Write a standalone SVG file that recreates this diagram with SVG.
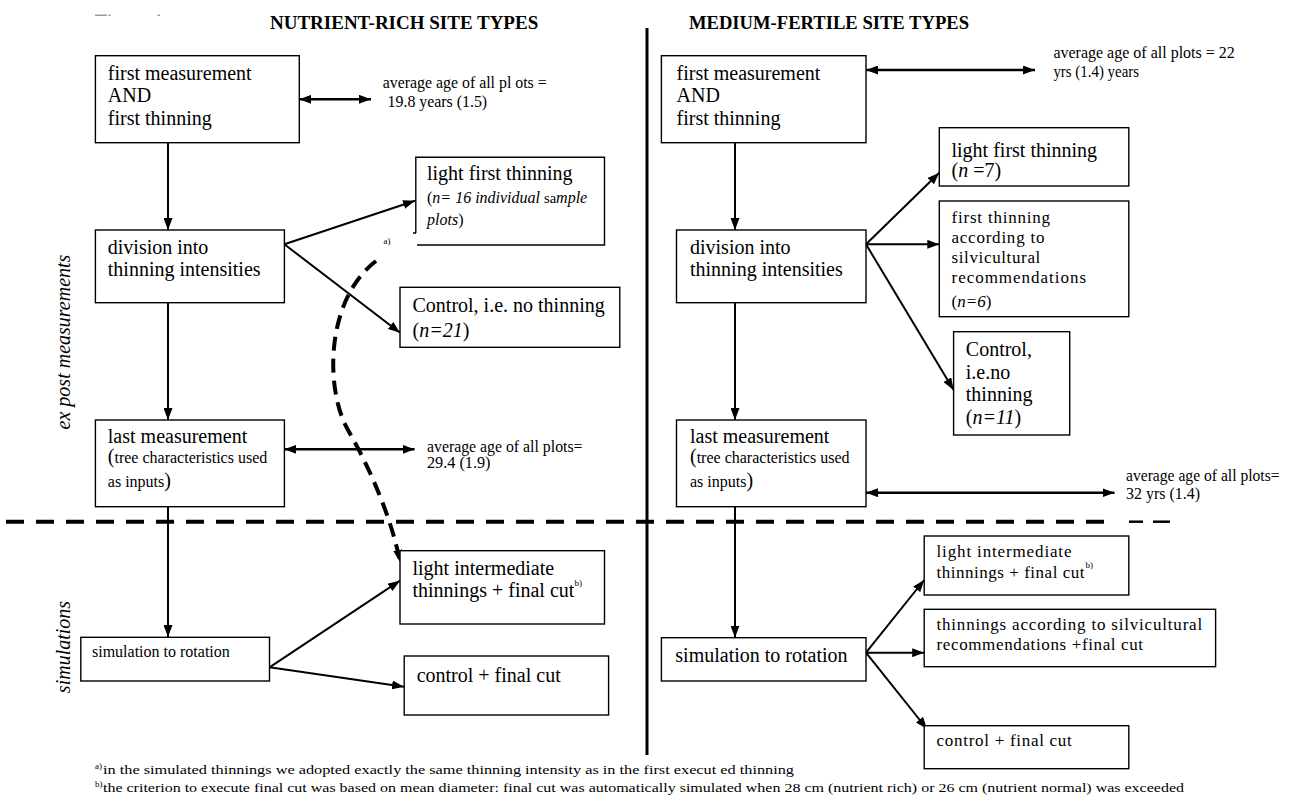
<svg xmlns="http://www.w3.org/2000/svg" width="1289" height="802" viewBox="0 0 1289 802">
<style>
text{font-family:"Liberation Serif","Times New Roman",serif;fill:#000}
.h{font-size:19px;font-weight:bold}
.b{font-size:20px}
.m{font-size:17px}
.s{font-size:16px}
.a{font-size:16px}
.i{font-style:italic}
.f{font-size:13px}
.sup{font-size:9px}
.box{fill:#fff;stroke:#000;stroke-width:1.4}
.ln{stroke:#000;stroke-width:2;fill:none}
.dl{stroke:#000;stroke-width:2.6;fill:none}
</style>
<defs>
<marker id="ah" viewBox="0 0 12 9" refX="12" refY="4.5" markerWidth="12" markerHeight="9" markerUnits="userSpaceOnUse" orient="auto-start-reverse"><path d="M0,0 L12,4.5 L0,9 z" fill="#000"/></marker>
</defs>
<rect width="1289" height="802" fill="#fff"/>

<g id="clipped-caption" fill="#9a9a9a">
<rect x="95" y="14.5" width="12" height="1.5"/>
<rect x="108.5" y="14.5" width="2" height="1.5"/>
<rect x="157.5" y="14.5" width="2.5" height="1.5"/>
</g>

<g id="headers">
<text class="h" x="270" y="29">NUTRIENT-RICH SITE TYPES</text>
<text class="h" x="689" y="29" textLength="280" lengthAdjust="spacingAndGlyphs">MEDIUM-FERTILE SITE TYPES</text>
<text class="b i" transform="translate(69.5,342) rotate(-90)" text-anchor="middle">ex post measurements</text>
<text class="b i" transform="translate(69.5,647) rotate(-90)" text-anchor="middle">simulations</text>
</g>

<g id="dividers">
<line x1="647" y1="28" x2="647" y2="755" stroke="#000" stroke-width="3"/>
<line x1="6" y1="521.7" x2="1113" y2="521.7" stroke="#000" stroke-width="4" stroke-dasharray="18 12"/>
<line x1="1129" y1="521.7" x2="1143" y2="521.7" stroke="#000" stroke-width="2.5"/>
<line x1="1153" y1="521.7" x2="1170" y2="521.7" stroke="#000" stroke-width="2.5"/>
</g>

<g id="connectors">
<line class="ln" x1="168" y1="143" x2="168" y2="230" marker-end="url(#ah)"/>
<line class="ln" x1="284.4" y1="244.3" x2="415" y2="200.7" marker-end="url(#ah)"/>
<line class="ln" x1="284.4" y1="244.3" x2="400" y2="332.7" marker-end="url(#ah)"/>
<line class="ln" x1="168" y1="302.7" x2="168" y2="420" marker-end="url(#ah)"/>
<line class="ln" x1="168" y1="506.7" x2="168" y2="637" marker-end="url(#ah)"/>
<line class="ln" x1="269.5" y1="667.3" x2="400" y2="580.7" marker-end="url(#ah)"/>
<line class="ln" x1="269.5" y1="667.3" x2="404" y2="686.7" marker-end="url(#ah)"/>
<line class="dl" x1="299.3" y1="99.3" x2="371" y2="99.3" marker-start="url(#ah)" marker-end="url(#ah)"/>
<line class="dl" x1="284.4" y1="449.3" x2="414.6" y2="449.3" marker-start="url(#ah)" marker-end="url(#ah)"/>
<path d="M376 261 C325 300 325 390 348 430 S392 520 400 562" fill="none" stroke="#000" stroke-width="4" stroke-dasharray="14 8" marker-end="url(#ah)"/>
<line class="ln" x1="735" y1="143" x2="735" y2="230" marker-end="url(#ah)"/>
<line class="ln" x1="866" y1="244.3" x2="939.3" y2="172.7" marker-end="url(#ah)"/>
<line class="ln" x1="866" y1="244.3" x2="939.3" y2="244.3" marker-end="url(#ah)"/>
<line class="ln" x1="866" y1="244.3" x2="953.6" y2="390" marker-end="url(#ah)"/>
<line class="ln" x1="735" y1="302.7" x2="735" y2="420" marker-end="url(#ah)"/>
<line class="ln" x1="735" y1="506.7" x2="735" y2="637.7" marker-end="url(#ah)"/>
<line class="ln" x1="866" y1="652.7" x2="924.2" y2="580" marker-end="url(#ah)"/>
<line class="ln" x1="866" y1="652.7" x2="924.2" y2="652.7" marker-end="url(#ah)"/>
<line class="ln" x1="866" y1="652.7" x2="927" y2="729" marker-end="url(#ah)"/>
<line class="dl" x1="866" y1="70" x2="1035" y2="70" marker-start="url(#ah)" marker-end="url(#ah)"/>
<line class="dl" x1="866" y1="492.7" x2="1114.5" y2="492.7" marker-start="url(#ah)" marker-end="url(#ah)"/>
</g>

<g id="annotations">
<text class="a" x="382.7" y="88" textLength="164" lengthAdjust="spacingAndGlyphs">average age of all pl ots =</text>
<text class="a" x="387.6" y="107" textLength="99.5" lengthAdjust="spacingAndGlyphs">19.8 years (1.5)</text>
<text class="a" x="427" y="451.7" textLength="155.5" lengthAdjust="spacingAndGlyphs">average age of all plots=</text>
<text class="a" x="427" y="468.3" textLength="63.5" lengthAdjust="spacingAndGlyphs">29.4 (1.9)</text>
<text class="a" x="1053.4" y="58" textLength="181.4" lengthAdjust="spacingAndGlyphs">average age of all plots =  22</text>
<text class="a" x="1053.4" y="77" textLength="85.6" lengthAdjust="spacingAndGlyphs">yrs (1.4) years</text>
<text class="a" x="1126" y="480.7" textLength="153.6" lengthAdjust="spacingAndGlyphs">average age of all plots=</text>
<text class="a" x="1126" y="499.3" textLength="74" lengthAdjust="spacingAndGlyphs">32 yrs (1.4)</text>
<text class="sup" x="383.5" y="244">a)</text>
</g>

<g id="n-L1">
<rect class="box" x="95.4" y="55.7" width="203.9" height="87"/>
<text class="b" x="107.8" y="80">first measurement</text>
<text class="b" x="107.8" y="102">AND</text>
<text class="b" x="107.8" y="125">first thinning</text>
</g>
<g id="n-Ldiv">
<rect class="box" x="95.4" y="230" width="189" height="72.7"/>
<text class="b" x="107.8" y="254">division into</text>
<text class="b" x="107.8" y="276">thinning intensities</text>
</g>
<g id="n-Llight">
<rect x="415.8" y="157.3" width="188.7" height="87.7" fill="#fff"/>
<path d="M415.8 233 V157.3 H604.5 V245 H417 M413 233 H416" fill="none" stroke="#000" stroke-width="1.4"/>
<text class="b" x="427" y="180">light first thinning</text>
<text x="427" y="203.3" font-size="16">(<tspan class="i">n= 16 individual </tspan><tspan font-size="14.5">sa</tspan><tspan class="i">mple</tspan></text>
<text x="427" y="225" font-size="16"><tspan class="i">plots</tspan>)</text>
</g>
<g id="n-Lctl">
<rect class="box" x="400" y="287.3" width="219.8" height="60"/>
<text class="b" x="412.5" y="311.7">Control, i.e. no thinning</text>
<text class="b" x="412.5" y="336.7">(<tspan class="i">n=21</tspan>)</text>
</g>
<g id="n-Llast">
<rect class="box" x="95.4" y="420" width="189" height="86.7"/>
<text class="b" x="107.8" y="443.3">last measurement</text>
<text class="s" x="107.8" y="463.3"><tspan class="b">(</tspan>tree characteristics used</text>
<text class="s" x="107.8" y="486.7">as inputs<tspan class="b">)</tspan></text>
</g>
<g id="n-Lsim">
<rect class="box" x="80.8" y="637.3" width="188.7" height="43.7"/>
<text class="s" x="92" y="657.3">simulation to rotation</text>
</g>
<g id="n-Llit">
<rect class="box" x="400" y="550.7" width="204.5" height="73.3"/>
<text class="b" x="412.5" y="575">light intermediate</text>
<text class="b" x="412.5" y="596.7">thinnings + final cut</text>
<text class="sup" x="574.5" y="586">b)</text>
</g>
<g id="n-Lctl2">
<rect class="box" x="404.2" y="656" width="204.4" height="59"/>
<text class="b" x="416.7" y="681.7">control + final cut</text>
</g>

<g id="n-R1">
<rect class="box" x="661.4" y="55.7" width="204.6" height="87"/>
<text class="b" x="676.5" y="80">first measurement</text>
<text class="b" x="676.5" y="102">AND</text>
<text class="b" x="676.5" y="125">first thinning</text>
</g>
<g id="n-Rdiv">
<rect class="box" x="676.5" y="230" width="189.5" height="72.7"/>
<text class="b" x="690" y="254">division into</text>
<text class="b" x="690" y="276">thinning intensities</text>
</g>
<g id="n-R2">
<rect class="box" x="939.3" y="127.7" width="189.5" height="58.3"/>
<text class="b" x="951.5" y="156.7">light first thinning</text>
<text class="b" x="951.5" y="176.7">(<tspan class="i">n</tspan> =7)</text>
</g>
<g id="n-R3">
<rect class="box" x="939.3" y="201" width="189.5" height="115.7"/>
<text class="m" x="951.5" y="222.7" textLength="98.6" lengthAdjust="spacing">first thinning</text>
<text class="m" x="951.5" y="242.7" textLength="92.9" lengthAdjust="spacing">according to</text>
<text class="m" x="951.5" y="263.3" textLength="88.8" lengthAdjust="spacing">silvicultural</text>
<text class="m" x="951.5" y="283.3" textLength="134.5" lengthAdjust="spacing">recommendations</text>
<text class="m" x="951.5" y="306.7">(<tspan class="i">n=6</tspan>)</text>
</g>
<g id="n-R4">
<rect class="box" x="953.6" y="331.7" width="116.1" height="103.3"/>
<text class="b" x="965.8" y="356">Control,</text>
<text class="b" x="965.8" y="379.3">i.e.no</text>
<text class="b" x="965.8" y="400.7">thinning</text>
<text class="b" x="965.8" y="424">(<tspan class="i">n=11</tspan>)</text>
</g>
<g id="n-Rlast">
<rect class="box" x="676.5" y="420" width="189.5" height="86.7"/>
<text class="b" x="690" y="443.3">last measurement</text>
<text class="s" x="690" y="463.3"><tspan class="b">(</tspan>tree characteristics used</text>
<text class="s" x="690" y="486.7">as inputs<tspan class="b">)</tspan></text>
</g>
<g id="n-Rsim">
<rect class="box" x="661.4" y="637.7" width="204.6" height="43.3"/>
<text class="b" x="675.3" y="661.7">simulation to rotation</text>
</g>
<g id="n-Rlit">
<rect class="box" x="924.2" y="536" width="204.6" height="59"/>
<text class="m" x="936.5" y="557.3" textLength="135" lengthAdjust="spacing">light intermediate</text>
<text class="m" x="936.5" y="578.3" textLength="148" lengthAdjust="spacing">thinnings + final cut</text>
<text class="sup" x="1085.5" y="568">b)</text>
</g>
<g id="n-Racc">
<rect class="box" x="924.2" y="609.3" width="291.4" height="57.4"/>
<text class="m" x="936.5" y="630" textLength="265.7" lengthAdjust="spacing">thinnings according to silvicultural</text>
<text class="m" x="936.5" y="650" textLength="206.6" lengthAdjust="spacing">recommendations +final cut</text>
</g>
<g id="n-Rctl">
<rect class="box" x="924.2" y="725.7" width="204.6" height="43"/>
<text class="m" x="936.5" y="746" textLength="135.3" lengthAdjust="spacing">control + final cut</text>
</g>

<g id="footnotes">
<text class="sup" x="95" y="769">a)</text>
<text class="f" x="103" y="774" textLength="691" lengthAdjust="spacingAndGlyphs">in the simulated thinnings we adopted exactly the same thinning intensity  as in the first execut ed thinning</text>
<text class="sup" x="95" y="787">b)</text>
<text class="f" x="103" y="792" textLength="1081" lengthAdjust="spacingAndGlyphs">the criterion to execute final cut was based on mean diameter: final cut was automatically simulated when 28 cm (nutrient rich) or 26 cm (nutrient normal) was exceeded</text>
</g>
</svg>
